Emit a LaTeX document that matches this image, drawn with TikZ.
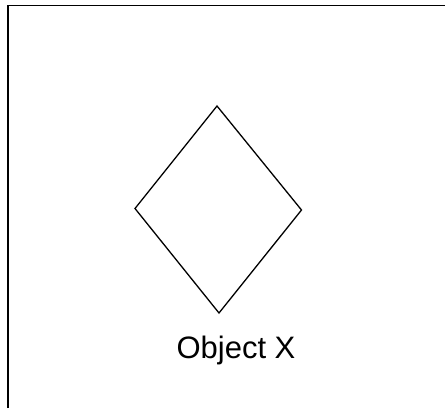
\documentclass[tikz,border=0pt]{standalone}
\usepackage{fontspec}
\setmainfont{Liberation Sans}
\begin{document}
\begin{tikzpicture}[x=1pt,y=-1pt,
  frameline/.style={line width=1.6pt,black},
  shapeline/.style={line width=1.3pt,black,line join=miter},
  label/.style={font=\fontsize{31}{36}\selectfont,inner sep=0pt,anchor=base}]
\useasboundingbox (0,0) rectangle (445,408);
\coordinate (fbl) at (8,408);
\coordinate (ftl) at (8,5.5);
\coordinate (ftr) at (445,5.5);
\draw[frameline] (fbl) -- (ftl) -- (ftr);
\coordinate (dt) at (217,106);
\coordinate (dr) at (301.5,210);
\coordinate (db) at (219,313);
\coordinate (dl) at (135,208.5);
\draw[shapeline] (dt) -- (dr) -- (db) -- (dl) -- cycle;
\node[label] (lbl) at (236,358) {Object X};
\end{tikzpicture}
\end{document}
